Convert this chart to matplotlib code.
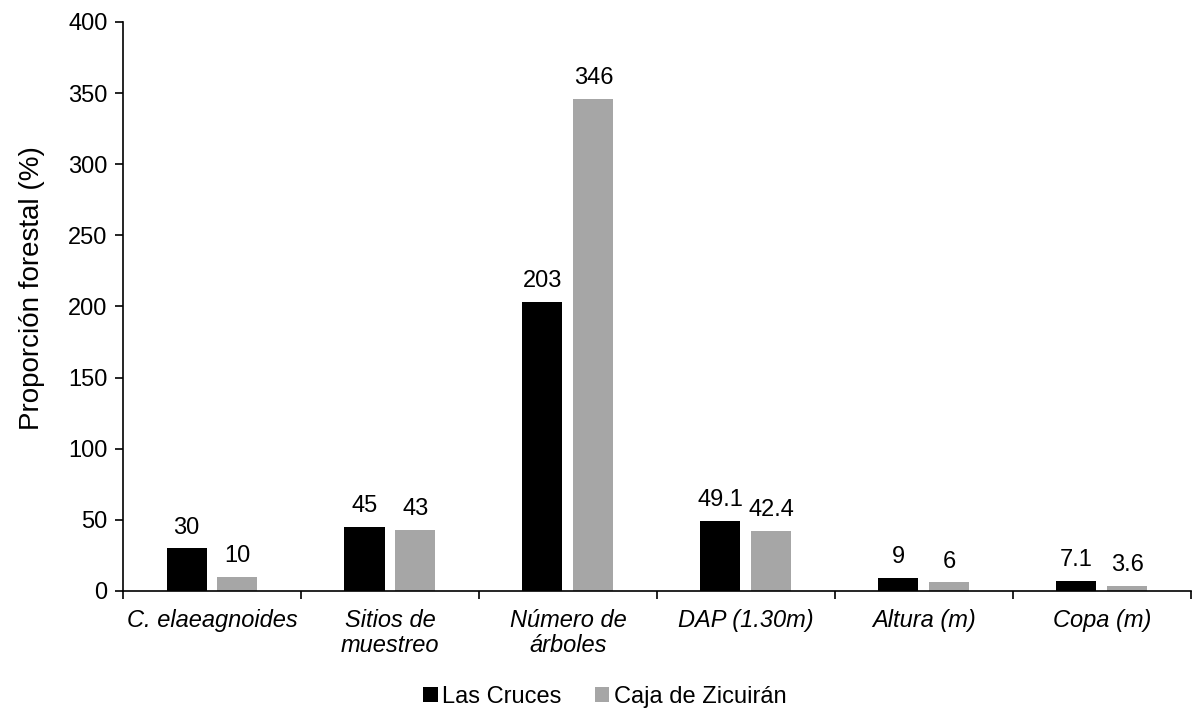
import numpy as np
import matplotlib.pyplot as plt

plt.rcParams['font.family'] = ['Liberation Sans', 'DejaVu Sans']
plt.rcParams['font.size'] = 17

categories = ['C. elaeagnoides', 'Sitios de\nmuestreo', 'Número de\nárboles',
              'DAP (1.30m)', 'Altura (m)', 'Copa (m)']
las_cruces = [30, 45, 203, 49.1, 9, 7.1]
caja_zicuiran = [10, 43, 346, 42.4, 6, 3.6]
lbl_cruces = ['30', '45', '203', '49.1', '9', '7.1']
lbl_caja = ['10', '43', '346', '42.4', '6', '3.6']

fig = plt.figure(figsize=(11.93, 7.08), dpi=100)
ax = fig.add_axes([0.1031, 0.1653, 0.895, 0.8037])

x = np.arange(len(categories))
w = 0.225
off = 0.143
b1 = ax.bar(x - off, las_cruces, w, color='black', label='Las Cruces')
b2 = ax.bar(x + off, caja_zicuiran, w, color='#a6a6a6', label='Caja de Zicuirán')

for bars, labs in ((b1, lbl_cruces), (b2, lbl_caja)):
    for b, t in zip(bars, labs):
        ax.annotate(t, (b.get_x() + b.get_width() / 2, b.get_height()),
                    xytext=(0, 7), textcoords='offset points',
                    ha='center', va='bottom', fontsize=17)

ax.set_xlim(-0.5, len(categories) - 0.5)
ax.set_ylim(0, 400)
ax.set_yticks(np.arange(0, 401, 50))
ax.set_xticks(np.arange(-0.5, len(categories), 1.0))
ax.set_xticklabels([])
ax.set_xticks(x, minor=True)
ax.set_xticklabels(categories, minor=True, style='italic', fontsize=17,
                   va='top', linespacing=1.12)
ax.tick_params(axis='x', which='minor', length=0, pad=13)
ax.tick_params(axis='x', which='major', length=6, width=1.2, direction='out')
ax.tick_params(axis='y', length=6, width=1.2, direction='out', pad=5)

ax.spines['top'].set_visible(False)
ax.spines['right'].set_visible(False)
ax.spines['left'].set_linewidth(1.2)
ax.spines['bottom'].set_linewidth(1.2)

ax.set_ylabel('Proporción forestal (%)', fontsize=20, labelpad=17)
ax.yaxis.label.set_y(0.533)

fig.legend(loc='lower center', bbox_to_anchor=(0.507, -0.03), ncol=2, frameon=False,
           fontsize=17, handlelength=0.6, handleheight=0.6, handletextpad=0.2,
           columnspacing=1.4)

fig.savefig('out.png', dpi=100)
